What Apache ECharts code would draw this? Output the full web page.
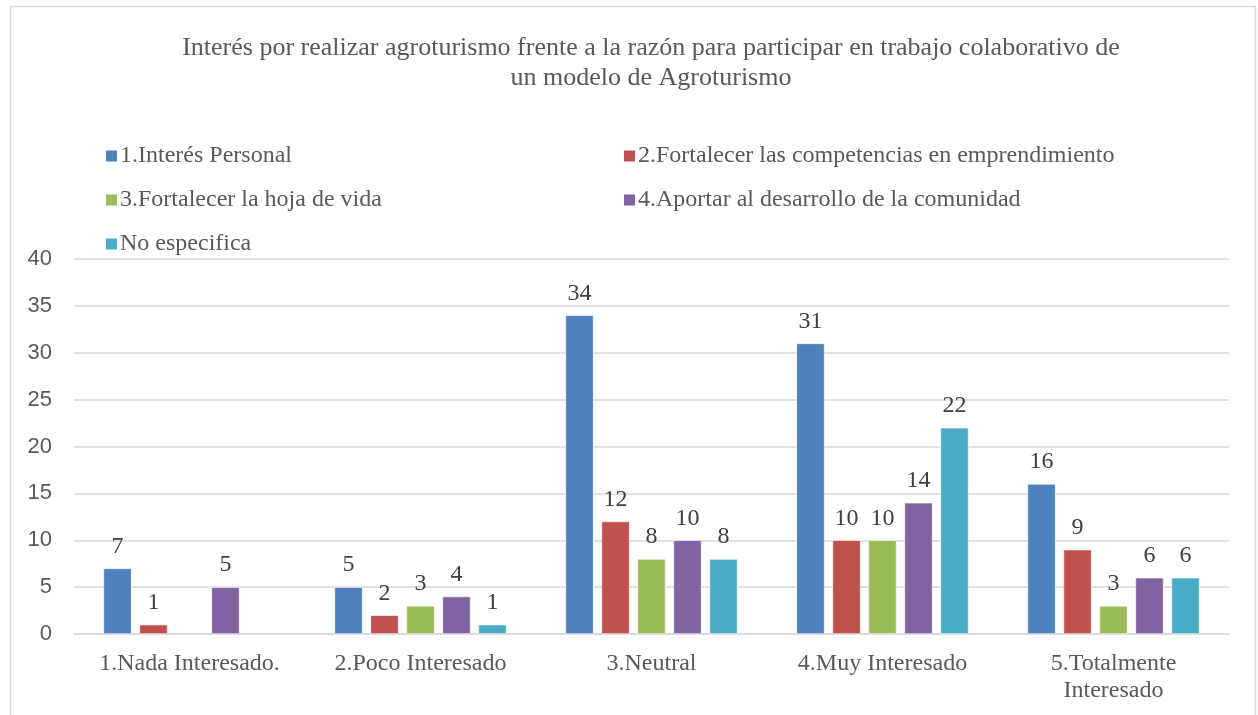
<!DOCTYPE html>
<html>
<head>
<meta charset="utf-8">
<script src="https://cdn.jsdelivr.net/npm/echarts@6/dist/echarts.min.js"></script>
<style>
  html, body { margin: 0; padding: 0; background: #fff; }
  #chart { width: 1258px; height: 715px; }
</style>
</head>
<body>
<div id="chart"></div>
<script>
// categorías y series del gráfico
const categories = ['1.Nada Interesado.', '2.Poco Interesado', '3.Neutral', '4.Muy Interesado', '5.Totalmente\nInteresado'];
const seriesNames = [
    '1.Interés Personal',
    '2.Fortalecer las competencias en emprendimiento',
    '3.Fortalecer la hoja de vida',
    '4.Aportar al desarrollo de la comunidad',
    'No especifica'
];
const interesPersonal = [7, 5, 34, 31, 16];
const competencias = [1, 2, 12, 10, 9];
const hojaDeVida = [null, 3, 8, 10, 3];
const comunidad = [5, 4, 10, 14, 6];
const noEspecifica = [null, 1, 8, 22, 6];
const yTicks = [0, 5, 10, 15, 20, 25, 30, 35, 40];

const colors = ['#4F81BD', '#C0504D', '#9BBB59', '#8064A2', '#4BACC6'];
const serif = '"Liberation Serif", "Times New Roman", serif';
const sans = '"Liberation Sans", Arial, sans-serif';

const myChart = echarts.init(document.getElementById('chart'));

const allData = [interesPersonal, competencias, hojaDeVida, comunidad, noEspecifica];

const legendCommon = {
    orient: 'vertical',
    top: 144,
    padding: 0,
    itemWidth: 13,
    itemHeight: 13,
    itemGap: 20,
    icon: 'rect',
    textStyle: { fontFamily: serif, fontSize: 24, color: '#595959', lineHeight: 24, padding: [0, 0, 0, -3] }
};

myChart.setOption({
    animation: false,
    color: colors,
    title: {
        text: 'Interés por realizar agroturismo frente a la razón para participar en trabajo colaborativo de\nun modelo de Agroturismo',
        left: 651,
        top: 33,
        textAlign: 'center',
        padding: 0,
        textStyle: {
            fontFamily: serif,
            fontSize: 26,
            fontWeight: 'normal',
            color: '#595959',
            lineHeight: 30,
            align: 'center'
        }
    },
    legend: [
        Object.assign({ data: [seriesNames[0], seriesNames[2], seriesNames[4]], left: 104 }, legendCommon),
        Object.assign({ data: [seriesNames[1], seriesNames[3]], left: 622 }, legendCommon)
    ],
    grid: {
        left: 74,
        right: 29,
        top: 259,
        bottom: 81,
        containLabel: false
    },
    xAxis: {
        type: 'category',
        data: categories,
        axisLine: { lineStyle: { color: '#d9d9d9', width: 1.5 } },
        axisTick: { show: false },
        axisLabel: {
            interval: 0,
            fontFamily: serif,
            fontSize: 24,
            color: '#595959',
            lineHeight: 27,
            margin: 16
        }
    },
    yAxis: {
        type: 'value',
        min: yTicks[0],
        max: yTicks[yTicks.length - 1],
        interval: yTicks[1] - yTicks[0],
        axisLine: { show: false },
        axisTick: { show: false },
        splitLine: { lineStyle: { color: '#d9d9d9', width: 1.5 } },
        axisLabel: {
            fontFamily: sans,
            fontSize: 22,
            color: '#595959',
            margin: 22
        }
    },
    graphic: [
        {
            type: 'rect',
            shape: { x: 10.5, y: 6.5, width: 1245, height: 720 },
            style: { fill: 'none', stroke: '#d9d9d9', lineWidth: 1.5 },
            silent: true
        }
    ],
    series: seriesNames.map((name, i) => ({
        name: name,
        type: 'bar',
        data: allData[i],
        barGap: '28%',
        barCategoryGap: '25.5%',
        itemStyle: { borderColor: '#ffffff', borderWidth: 0.6 },
        label: {
            show: true,
            position: 'top',
            distance: 10,
            fontFamily: serif,
            fontSize: 24,
            color: '#404040'
        }
    }))
});
</script>
</body>
</html>
